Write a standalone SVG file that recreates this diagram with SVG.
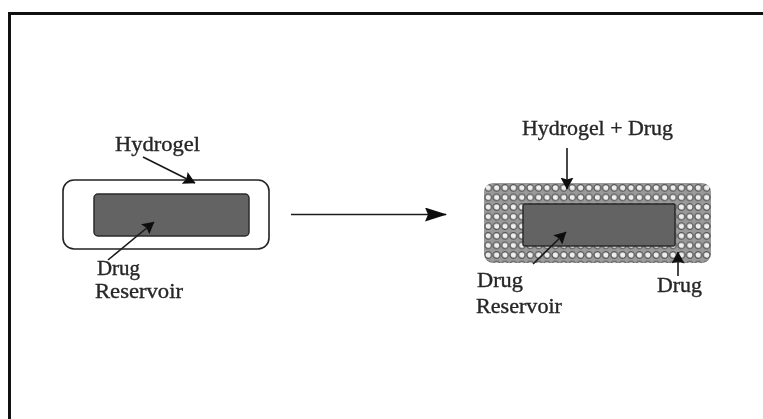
<svg xmlns="http://www.w3.org/2000/svg" width="763" height="419" viewBox="0 0 763 419">
  <style>
    .lbl { font-family: "Liberation Serif", "Times New Roman", serif; font-size: 21px; fill: #262626; stroke: #262626; stroke-width: 0.35; }
    .conn { stroke: #1a1a1a; stroke-width: 1.6; fill: none; }
    .res { fill: #646464; stroke: #2a2a2a; stroke-width: 1.5; }
  </style>
  <defs>
    <marker id="head" viewBox="0 0 12 13" refX="11.5" refY="6.5" markerWidth="12" markerHeight="13" markerUnits="userSpaceOnUse" orient="auto">
      <path d="M0,0 L12,6.5 L0,13 L2,6.5 Z" fill="#111"/>
    </marker>
    <marker id="headBig" viewBox="0 0 22 14" refX="21" refY="7" markerWidth="22" markerHeight="14" markerUnits="userSpaceOnUse" orient="auto">
      <path d="M0,0 L22,7 L0,14 L3,7 Z" fill="#111"/>
    </marker>
    <!-- bead texture of the drug-loaded hydrogel -->
    <pattern id="beads" width="8.4" height="9.6" patternUnits="userSpaceOnUse" x="484" y="183">
      <rect width="8.4" height="9.6" fill="#9a9a9a"/>
      <circle cx="4.2" cy="4.8" r="3.3" fill="#eeeeee" stroke="#4a4a4a" stroke-width="1.2"/>
    </pattern>
    <filter id="soft" x="-5%" y="-5%" width="110%" height="110%">
      <feGaussianBlur stdDeviation="0.55"/>
    </filter>
  </defs>

  <rect width="763" height="419" fill="#ffffff"/>

  <!-- page frame -->
  <path d="M9.5,419 V13.5 H763" fill="none" stroke="#111" stroke-width="3"/>

  <g filter="url(#soft)">
    <!-- hydrogel-coated reservoir -->
    <g id="coated-device">
      <rect x="63" y="180" width="206" height="69" rx="11" fill="#fff" stroke="#222" stroke-width="1.6"/>
      <rect class="res" x="94" y="194" width="155" height="42" rx="4"/>
    </g>

    <!-- reservoir in drug-loaded hydrogel -->
    <g id="loaded-device">
      <rect x="484" y="183" width="227" height="80" rx="9" fill="url(#beads)"/>
      <rect class="res" x="523" y="204" width="152" height="42" rx="2"/>
    </g>

    <g id="labels">
      <text class="lbl" x="115" y="151" textLength="85" lengthAdjust="spacingAndGlyphs">Hydrogel</text>
      <text class="lbl" x="97" y="275" textLength="43" lengthAdjust="spacingAndGlyphs">Drug</text>
      <text class="lbl" x="95" y="298" textLength="88" lengthAdjust="spacingAndGlyphs">Reservoir</text>
      <text class="lbl" x="522" y="135" textLength="151" lengthAdjust="spacingAndGlyphs">Hydrogel + Drug</text>
      <text class="lbl" x="477" y="287" textLength="46" lengthAdjust="spacingAndGlyphs">Drug</text>
      <text class="lbl" x="476" y="313" textLength="86" lengthAdjust="spacingAndGlyphs">Reservoir</text>
      <text class="lbl" x="657" y="292" textLength="45" lengthAdjust="spacingAndGlyphs">Drug</text>
    </g>

    <g id="connectors">
      <line class="conn" x1="143" y1="157" x2="195" y2="183" marker-end="url(#head)"/>
      <line class="conn" x1="108" y1="260" x2="154" y2="222" marker-end="url(#head)"/>
      <line class="conn" x1="291" y1="214.5" x2="446" y2="214.5" stroke-width="2" marker-end="url(#headBig)"/>
      <line class="conn" x1="567" y1="148" x2="567" y2="189" marker-end="url(#head)"/>
      <line class="conn" x1="533" y1="264" x2="566" y2="232" marker-end="url(#head)"/>
      <line class="conn" x1="678" y1="276" x2="678" y2="252" marker-end="url(#head)"/>
    </g>
  </g>
</svg>
